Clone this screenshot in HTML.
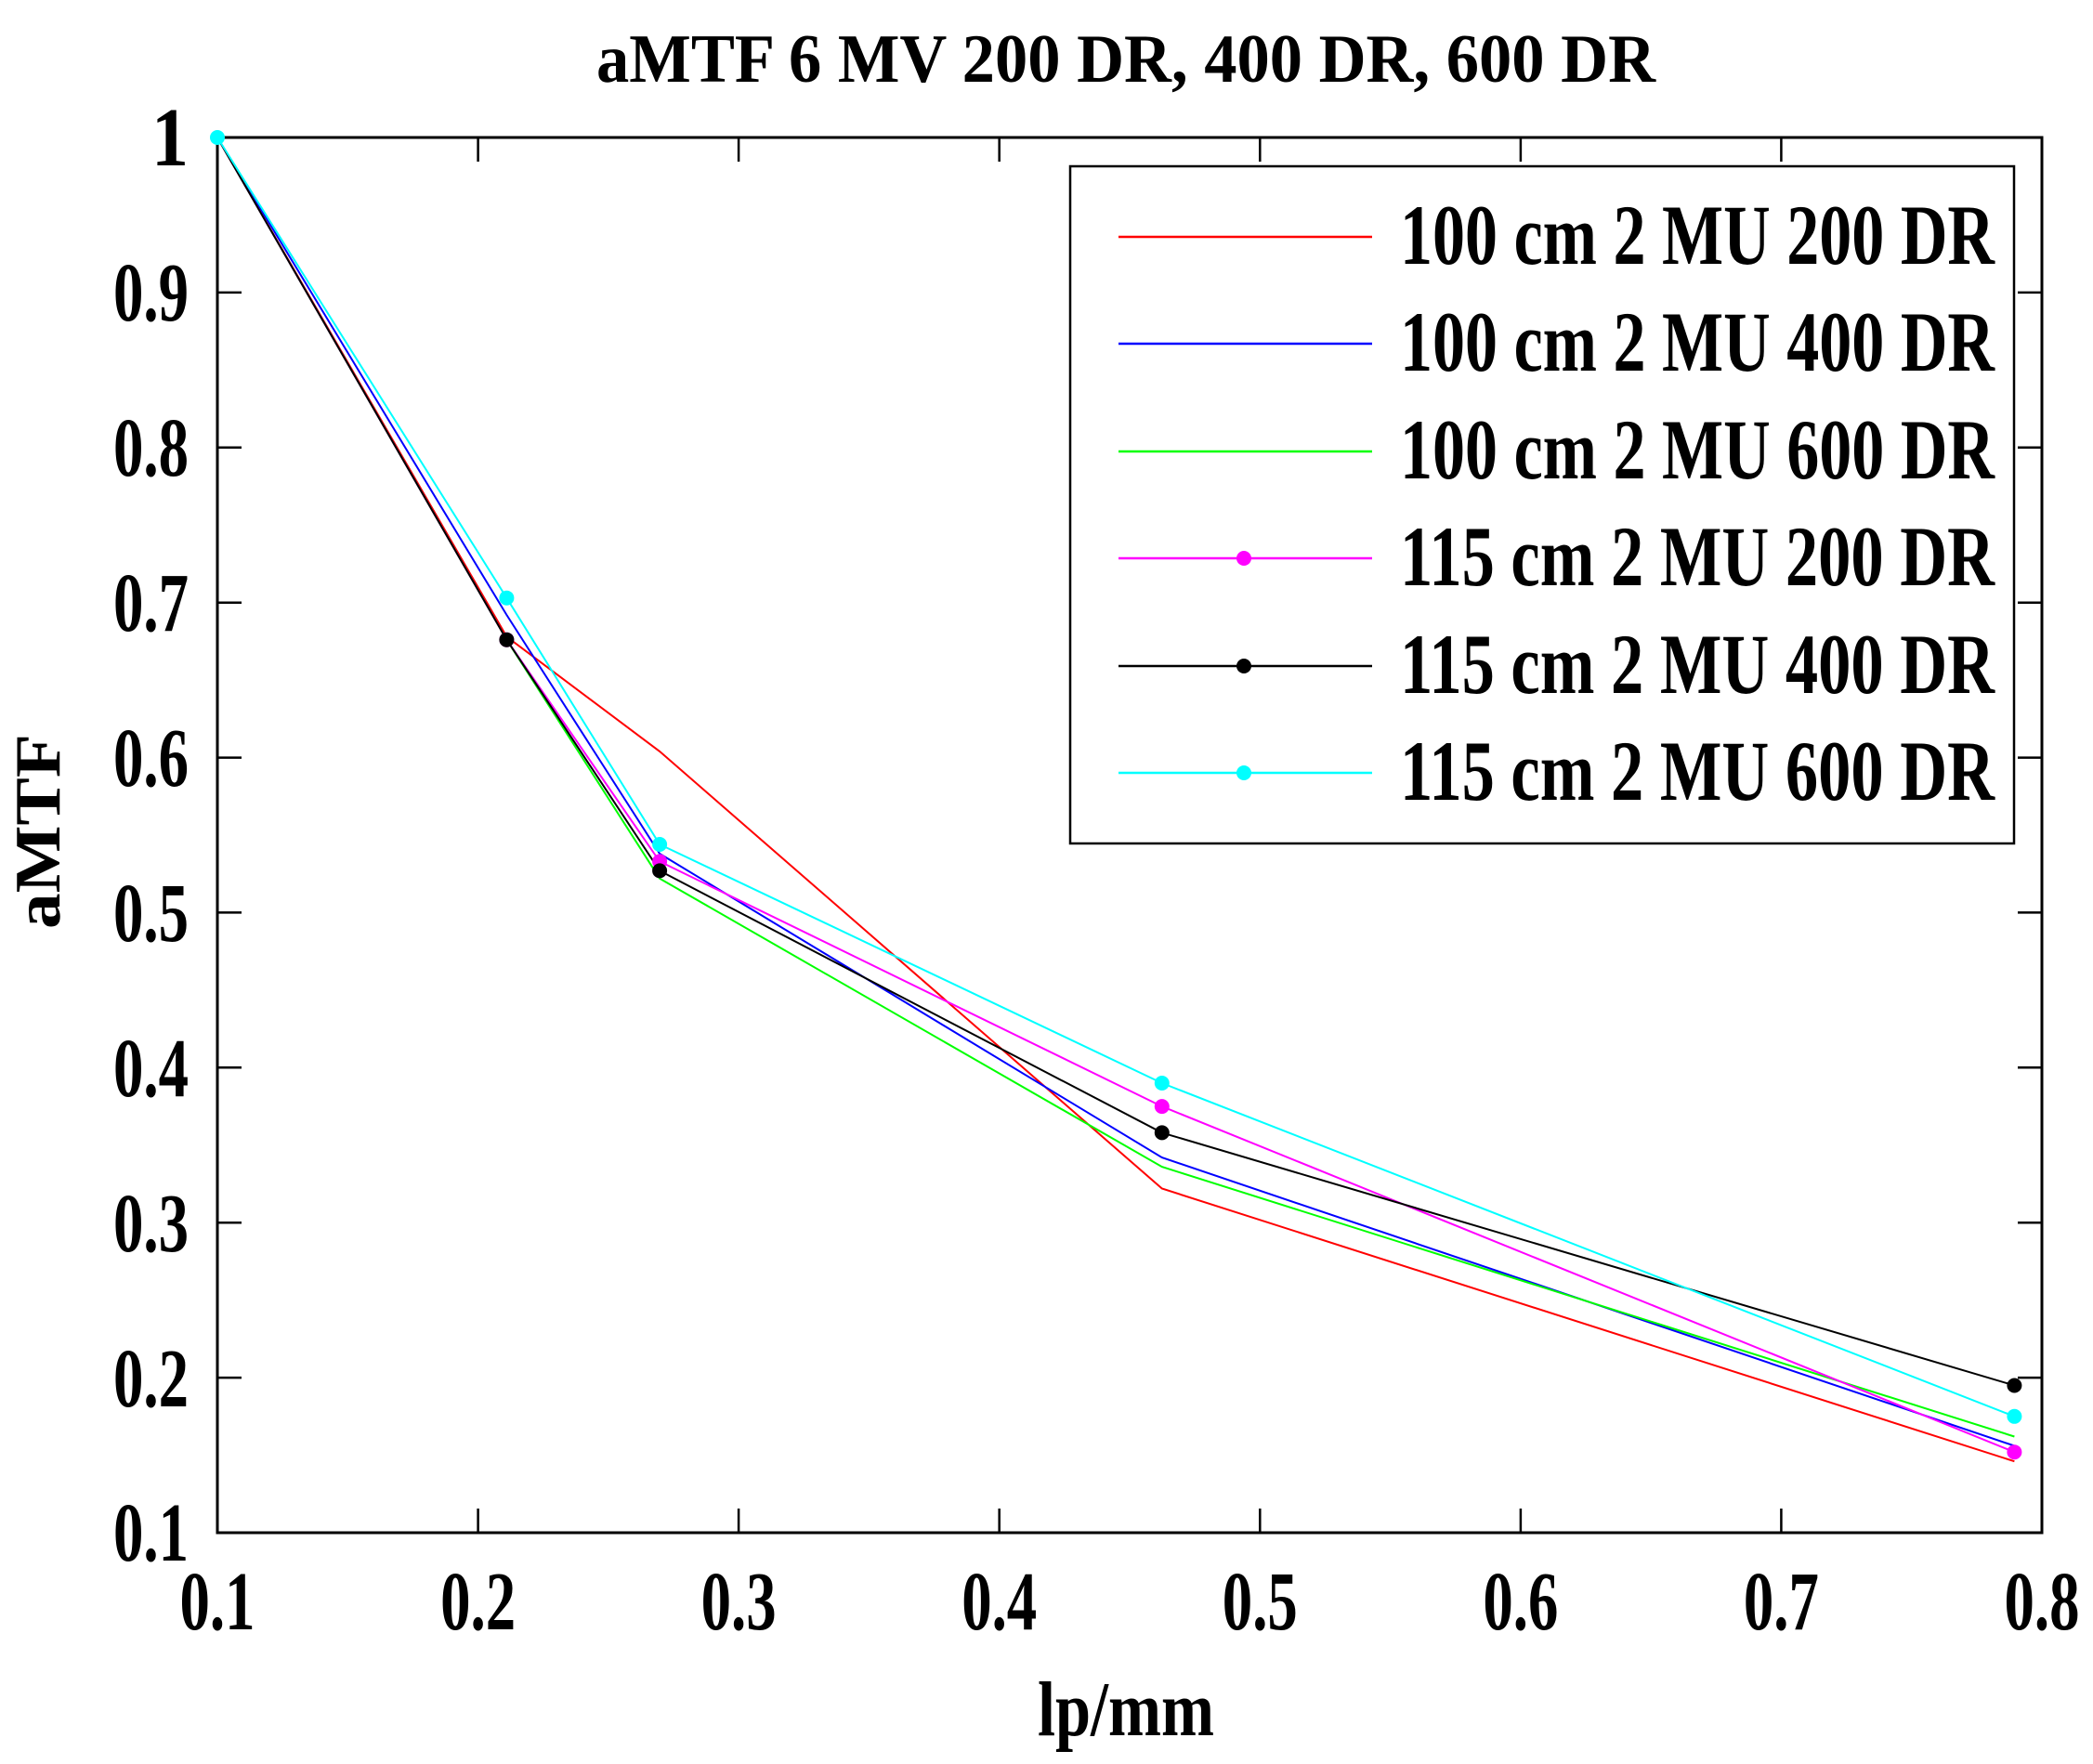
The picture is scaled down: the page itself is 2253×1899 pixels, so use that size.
<!DOCTYPE html>
<html><head><meta charset="utf-8"><style>html,body{margin:0;padding:0;background:#fff}svg{display:block}</style></head><body>
<svg width="2253" height="1899" viewBox="0 0 2253 1899" xmlns="http://www.w3.org/2000/svg" font-family="'Liberation Serif', serif" font-weight="bold">
<rect width="2253" height="1899" fill="#fff"/>
<text x="1212" y="88" font-size="74" text-anchor="middle" textLength="1140" lengthAdjust="spacingAndGlyphs">aMTF 6 MV 200 DR, 400 DR, 600 DR</text>
<g stroke="#000" stroke-width="2.5">
<line x1="514.6" y1="1650" x2="514.6" y2="1624"/><line x1="795.1" y1="1650" x2="795.1" y2="1624"/><line x1="1075.7" y1="1650" x2="1075.7" y2="1624"/><line x1="1356.3" y1="1650" x2="1356.3" y2="1624"/><line x1="1636.9" y1="1650" x2="1636.9" y2="1624"/><line x1="1917.4" y1="1650" x2="1917.4" y2="1624"/>
<line x1="514.6" y1="148" x2="514.6" y2="174"/><line x1="795.1" y1="148" x2="795.1" y2="174"/><line x1="1075.7" y1="148" x2="1075.7" y2="174"/><line x1="1356.3" y1="148" x2="1356.3" y2="174"/><line x1="1636.9" y1="148" x2="1636.9" y2="174"/><line x1="1917.4" y1="148" x2="1917.4" y2="174"/>
<line x1="234" y1="314.9" x2="260" y2="314.9"/><line x1="234" y1="481.8" x2="260" y2="481.8"/><line x1="234" y1="648.7" x2="260" y2="648.7"/><line x1="234" y1="815.6" x2="260" y2="815.6"/><line x1="234" y1="982.4" x2="260" y2="982.4"/><line x1="234" y1="1149.3" x2="260" y2="1149.3"/><line x1="234" y1="1316.2" x2="260" y2="1316.2"/><line x1="234" y1="1483.1" x2="260" y2="1483.1"/>
<line x1="2198" y1="314.9" x2="2172" y2="314.9"/><line x1="2198" y1="481.8" x2="2172" y2="481.8"/><line x1="2198" y1="648.7" x2="2172" y2="648.7"/><line x1="2198" y1="815.6" x2="2172" y2="815.6"/><line x1="2198" y1="982.4" x2="2172" y2="982.4"/><line x1="2198" y1="1149.3" x2="2172" y2="1149.3"/><line x1="2198" y1="1316.2" x2="2172" y2="1316.2"/><line x1="2198" y1="1483.1" x2="2172" y2="1483.1"/>
</g>
<rect x="234" y="148" width="1964" height="1502" fill="none" stroke="#000" stroke-width="3"/>
<g font-size="90" text-anchor="end">
<text x="203" y="178" textLength="40" lengthAdjust="spacingAndGlyphs">1</text>
<text x="203" y="345" textLength="81" lengthAdjust="spacingAndGlyphs">0.9</text>
<text x="203" y="512" textLength="81" lengthAdjust="spacingAndGlyphs">0.8</text>
<text x="203" y="679" textLength="81" lengthAdjust="spacingAndGlyphs">0.7</text>
<text x="203" y="846" textLength="81" lengthAdjust="spacingAndGlyphs">0.6</text>
<text x="203" y="1013" textLength="81" lengthAdjust="spacingAndGlyphs">0.5</text>
<text x="203" y="1180" textLength="81" lengthAdjust="spacingAndGlyphs">0.4</text>
<text x="203" y="1347" textLength="81" lengthAdjust="spacingAndGlyphs">0.3</text>
<text x="203" y="1514" textLength="81" lengthAdjust="spacingAndGlyphs">0.2</text>
<text x="203" y="1680" textLength="81" lengthAdjust="spacingAndGlyphs">0.1</text>
</g>
<g font-size="90" text-anchor="middle">
<text x="234" y="1754" textLength="81" lengthAdjust="spacingAndGlyphs">0.1</text>
<text x="514.6" y="1754" textLength="81" lengthAdjust="spacingAndGlyphs">0.2</text>
<text x="795.1" y="1754" textLength="81" lengthAdjust="spacingAndGlyphs">0.3</text>
<text x="1075.7" y="1754" textLength="81" lengthAdjust="spacingAndGlyphs">0.4</text>
<text x="1356.3" y="1754" textLength="81" lengthAdjust="spacingAndGlyphs">0.5</text>
<text x="1636.9" y="1754" textLength="81" lengthAdjust="spacingAndGlyphs">0.6</text>
<text x="1917.4" y="1754" textLength="81" lengthAdjust="spacingAndGlyphs">0.7</text>
<text x="2198" y="1754" textLength="81" lengthAdjust="spacingAndGlyphs">0.8</text>
</g>
<text x="1212" y="1868" font-size="84" text-anchor="middle" textLength="190" lengthAdjust="spacingAndGlyphs">lp/mm</text>
<text transform="translate(64,895) rotate(-90)" font-size="70" text-anchor="middle" textLength="210" lengthAdjust="spacingAndGlyphs">aMTF</text>
<g fill="none" stroke-width="2">
<polyline stroke="#ff0000" points="234,148 545.4,685.4 710.1,808.9 1250.8,1279.5 2168.4,1573.2"/>
<polyline stroke="#0000ff" points="234,148 545.4,662 710.1,919 1250.8,1246.1 2168.4,1556.5"/>
<polyline stroke="#00ff00" points="234,148 545.4,688.7 710.1,945.7 1250.8,1256.1 2168.4,1546.5"/>
<polyline stroke="#ff00ff" points="234,148 545.4,688.7 710.1,927.4 1250.8,1191.1 2168.4,1563.2"/>
<polyline stroke="#000000" points="234,148 545.4,688.7 710.1,937.4 1250.8,1219.4 2168.4,1491.5"/>
<polyline stroke="#00ffff" points="234,148 545.4,643.7 710.1,909 1250.8,1166 2168.4,1524.8"/>
</g>
<g>
<circle cx="545.4" cy="688.7" r="8" fill="#ff00ff"/><circle cx="710.1" cy="927.4" r="8" fill="#ff00ff"/><circle cx="1250.8" cy="1191.1" r="8" fill="#ff00ff"/><circle cx="2168.4" cy="1563.2" r="8" fill="#ff00ff"/>
<circle cx="545.4" cy="688.7" r="8" fill="#000"/><circle cx="710.1" cy="937.4" r="8" fill="#000"/><circle cx="1250.8" cy="1219.4" r="8" fill="#000"/><circle cx="2168.4" cy="1491.5" r="8" fill="#000"/>
<circle cx="234" cy="148" r="8" fill="#00ffff"/><circle cx="545.4" cy="643.7" r="8" fill="#00ffff"/><circle cx="710.1" cy="909" r="8" fill="#00ffff"/><circle cx="1250.8" cy="1166" r="8" fill="#00ffff"/><circle cx="2168.4" cy="1524.8" r="8" fill="#00ffff"/>
</g>
<rect x="1152" y="179" width="1016" height="729" fill="#fff" stroke="#000" stroke-width="2.5"/>
<g stroke-width="2.5">
<line x1="1204" y1="255" x2="1477" y2="255" stroke="#ff0000"/>
<line x1="1204" y1="370" x2="1477" y2="370" stroke="#0000ff"/>
<line x1="1204" y1="486" x2="1477" y2="486" stroke="#00ff00"/>
<line x1="1204" y1="601" x2="1477" y2="601" stroke="#ff00ff"/>
<line x1="1204" y1="717" x2="1477" y2="717" stroke="#000000"/>
<line x1="1204" y1="832" x2="1477" y2="832" stroke="#00ffff"/>
</g>
<circle cx="1339" cy="601" r="8" fill="#ff00ff"/><circle cx="1339" cy="717" r="8" fill="#000"/><circle cx="1339" cy="832" r="8" fill="#00ffff"/>
<g font-size="92">
<text x="1507" y="284" textLength="640" lengthAdjust="spacingAndGlyphs">100 cm 2 MU 200 DR</text>
<text x="1507" y="399" textLength="640" lengthAdjust="spacingAndGlyphs">100 cm 2 MU 400 DR</text>
<text x="1507" y="515" textLength="640" lengthAdjust="spacingAndGlyphs">100 cm 2 MU 600 DR</text>
<text x="1507" y="630" textLength="640" lengthAdjust="spacingAndGlyphs">115 cm 2 MU 200 DR</text>
<text x="1507" y="746" textLength="640" lengthAdjust="spacingAndGlyphs">115 cm 2 MU 400 DR</text>
<text x="1507" y="861" textLength="640" lengthAdjust="spacingAndGlyphs">115 cm 2 MU 600 DR</text>
</g>
</svg>
</body></html>
